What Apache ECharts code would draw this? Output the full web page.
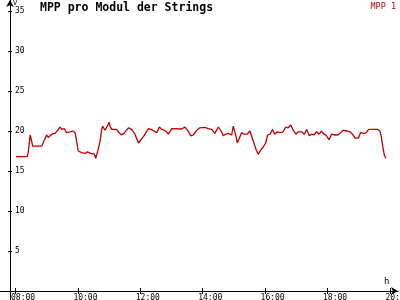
<!DOCTYPE html>
<html><head><meta charset="utf-8">
<script src="https://cdn.jsdelivr.net/npm/echarts@6/dist/echarts.min.js"></script>
<style>html,body{margin:0;padding:0;background:#fff}#c{width:400px;height:300px}</style>
</head><body><div id="c"></div>
<script>
const seriesName = 'MPP 1';
const titleText = 'MPP pro Modul der Strings';
// time in decimal hours
const hours = [8.016,8.378,8.41,8.47,8.53,8.55,8.84,8.90,8.95,9.00,9.05,9.16,9.27,9.37,9.43,9.48,9.56,9.64,9.75,9.83,9.91,9.96,10.01,10.12,10.23,10.30,10.41,10.53,10.57,10.63,10.71,10.76,10.79,10.87,10.90,10.96,11.00,11.03,11.08,11.13,11.24,11.29,11.40,11.48,11.56,11.62,11.72,11.83,11.94,11.97,12.10,12.26,12.40,12.53,12.61,12.69,12.74,12.82,12.90,13.01,13.33,13.43,13.51,13.62,13.70,13.81,13.91,14.07,14.18,14.29,14.39,14.50,14.59,14.66,14.74,14.82,14.93,14.98,15.07,15.11,15.17,15.25,15.32,15.43,15.51,15.60,15.71,15.78,15.86,15.94,16.02,16.08,16.16,16.18,16.24,16.31,16.39,16.48,16.58,16.66,16.74,16.82,16.90,16.99,17.06,17.17,17.26,17.33,17.42,17.49,17.56,17.65,17.73,17.81,17.86,17.97,18.05,18.13,18.24,18.32,18.40,18.50,18.61,18.72,18.80,18.88,18.99,19.06,19.17,19.24,19.32,19.61,19.68,19.72,19.77,19.82,19.87];
const volts = [16.8,16.8,17.4,19.5,18.5,18.1,18.1,18.3,19.1,19.5,19.2,19.6,19.7,20.2,20.5,20.2,20.3,19.8,19.9,20.0,19.8,18.7,17.5,17.3,17.2,17.4,17.2,17.1,16.6,17.4,18.7,20.1,20.6,20.1,20.3,20.75,21.1,20.6,20.2,20.3,20.2,19.9,19.5,19.7,20.1,20.4,20.2,19.6,18.5,18.25,19.3,20.3,20.1,19.8,20.5,20.2,20.3,20.0,19.6,20.3,20.25,20.5,20.1,19.4,19.5,20.1,20.4,20.45,20.3,20.2,19.7,20.5,20.0,19.4,19.6,19.7,19.5,20.6,19.3,18.5,18.6,19.8,19.6,19.6,20.0,19.0,17.7,17.1,17.6,18.0,18.5,19.5,19.6,19.7,20.2,19.6,19.9,19.8,19.9,20.5,20.4,20.75,20.1,19.6,19.9,19.9,19.6,20.2,19.4,19.6,19.5,19.9,19.6,20.0,19.7,19.4,18.9,19.6,19.5,19.5,19.7,20.1,20.0,19.9,19.6,19.1,19.1,19.8,19.7,19.8,20.2,20.2,20.0,19.4,18.1,17.0,16.6];
const xTicks = [8,10,12,14,16,18,20];
const yTicks = [5,10,15,20,25,30,35];
const yUnit = 'V';
const xUnit = 'h';

const fmtHour = v => (v < 10 ? '0' : '') + v + ':00';
const font = 'DejaVu Sans Mono';
const red = '#c00000';
const chart = echarts.init(document.getElementById('c'), null, {renderer: 'canvas'});
const xBase = {
  type: 'value', min: 7.5032, max: 20.2596, position: 'bottom', offset: -9,
  splitLine: {show: false}
};
const yBase = {
  type: 'value', min: -1.125, max: 36.375, offset: -10, position: 'left',
  splitLine: {show: false}
};
chart.setOption({
  animation: false,
  backgroundColor: '#ffffff',
  title: {text: titleText, left: 40, top: 2, padding: 0,
    textStyle: {fontFamily: font, fontSize: 11.5, fontWeight: 'bold', color: '#000'}},
  legend: {right: 4, top: 2, padding: 0, icon: 'rect', itemWidth: 0, itemHeight: 0, itemGap: 0,
    data: [seriesName],
    textStyle: {fontFamily: font, fontSize: 8.5, color: red, padding: 0}},
  grid: {left: 0, right: 2, top: 0, bottom: 0, containLabel: false, outerBoundsMode: 'none'},
  xAxis: [
    Object.assign({}, xBase, {
      axisLine: {onZero: false, symbol: ['none', 'arrow'], symbolSize: [6, 7], lineStyle: {color: '#000', width: 1}},
      axisTick: {show: true, length: 3, customValues: xTicks, lineStyle: {color: '#000'}},
      axisLabel: {customValues: xTicks, formatter: fmtHour, margin: 3, hideOverlap: false,
        align: 'left', padding: [0, 0, 0, -4.5],
        fontFamily: font, fontSize: 8, color: '#000'}
    }),
    Object.assign({}, xBase, {
      axisLine: {onZero: false, show: false},
      axisTick: {show: true, inside: true, length: 3, customValues: xTicks, lineStyle: {color: '#000'}},
      axisLabel: {show: false}
    })
  ],
  yAxis: [
    Object.assign({}, yBase, {
      axisLine: {show: true, onZero: false, symbol: ['none', 'arrow'], symbolSize: [6, 7], lineStyle: {color: '#000', width: 1}},
      axisTick: {show: true, length: 2, customValues: yTicks, lineStyle: {color: '#000'}},
      axisLabel: {inside: true, customValues: yTicks, margin: 5,
        fontFamily: font, fontSize: 8, color: '#000'}
    }),
    Object.assign({}, yBase, {
      axisLine: {show: false, onZero: false},
      axisTick: {show: true, inside: true, length: 2, customValues: yTicks, lineStyle: {color: '#000'}},
      axisLabel: {show: false}
    })
  ],
  graphic: [
    {type: 'text', left: 13, top: 0, style: {text: yUnit, font: '7px "DejaVu Sans Mono"', fill: '#000'}},
    {type: 'text', left: 384, top: 277, style: {text: xUnit, font: '9px "DejaVu Sans Mono"', fill: '#000'}}
  ],
  series: [{
    name: seriesName, type: 'line', xAxisIndex: 0, yAxisIndex: 0,
    showSymbol: false, symbol: 'none',
    lineStyle: {color: red, width: 1.3}, itemStyle: {color: red},
    data: hours.map((h, i) => [h, volts[i]])
  }]
});
</script></body></html>
